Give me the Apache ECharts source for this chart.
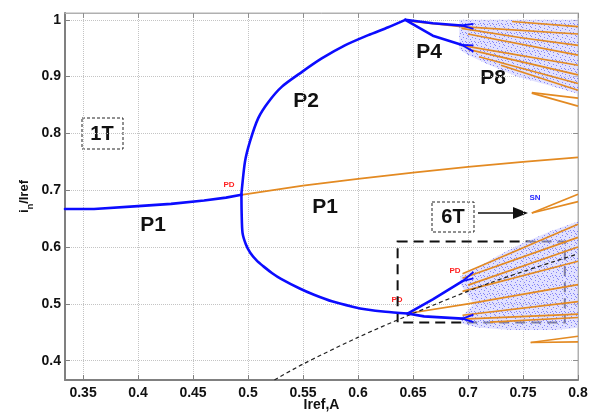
<!DOCTYPE html>
<html>
<head>
<meta charset="utf-8">
<script src="https://cdn.jsdelivr.net/npm/echarts@6/dist/echarts.min.js"></script>
<style>
html,body{margin:0;padding:0;background:#fff}
#chart{width:589px;height:412px}
</style>
</head>
<body>
<div id="chart"></div>
<script>
// tick labels
var xTicks = [0.35, 0.4, 0.45, 0.5, 0.55, 0.6, 0.65, 0.7, 0.75, 0.8];
var yTicks = [0.4, 0.5, 0.6, 0.7, 0.8, 0.9, 1];

// stable branches (blue)
var p1Stable = [[0.3336,0.667],[0.36,0.667],[0.40,0.672],[0.43,0.676],[0.46,0.682],[0.48,0.687],[0.494,0.692]];
var p2Upper = [[0.494,0.692],[0.4942,0.698],[0.4972,0.750],[0.5018,0.786],[0.5093,0.827],[0.5184,0.855],[0.5306,0.882],
  [0.5488,0.908],[0.5670,0.932],[0.5881,0.955],[0.6093,0.973],[0.6275,0.987],[0.643,1.0]];
var p2Lower = [[0.494,0.692],[0.4942,0.660],[0.495,0.625],[0.498,0.605],[0.502,0.590],[0.508,0.576],[0.514,0.566],[0.522,0.554],
  [0.530,0.544],[0.547,0.527],[0.560,0.516],[0.577,0.504],[0.595,0.495],[0.608,0.490],[0.625,0.486],[0.645,0.483]];
var p4TopA = [[0.643,1.0],[0.668,0.994],[0.694,0.990]];
var p4TopB = [[0.643,1.0],[0.668,0.972],[0.694,0.956]];
var p4LowA = [[0.645,0.483],[0.668,0.508],[0.695,0.540]];
var p4LowB = [[0.645,0.483],[0.66,0.478],[0.695,0.474]];
var p8Stubs = [
  [[0.694,0.990],[0.705,0.993]], [[0.694,0.990],[0.705,0.984]],
  [[0.694,0.956],[0.705,0.955]], [[0.694,0.956],[0.705,0.944]],
  [[0.695,0.540],[0.705,0.556]], [[0.695,0.540],[0.705,0.545]],
  [[0.695,0.474],[0.705,0.481]], [[0.695,0.474],[0.705,0.468]]
];

// unstable branches (orange)
var p1Unstable = [[0.494,0.692],[0.55,0.708],[0.60,0.720],[0.65,0.731],[0.70,0.741],[0.75,0.750],[0.80,0.758]];
var upperOrange = [
  [[0.645,0.998],[0.694,0.988],[0.80,0.975]],
  [[0.74,0.997],[0.80,0.988]],
  [[0.694,0.985],[0.75,0.968],[0.80,0.955]],
  [[0.70,0.975],[0.80,0.938]],
  [[0.694,0.955],[0.80,0.920]],
  [[0.70,0.948],[0.80,0.903]],
  [[0.71,0.935],[0.80,0.888]],
  [[0.73,0.920],[0.80,0.876]],
  [[0.758,0.872],[0.80,0.862]],
  [[0.758,0.871],[0.80,0.848]]
];
var lowerOrange = [
  [[0.695,0.553],[0.80,0.640]],
  [[0.695,0.545],[0.80,0.617]],
  [[0.70,0.533],[0.80,0.600]],
  [[0.695,0.522],[0.80,0.575]],
  [[0.645,0.483],[0.70,0.500],[0.80,0.534]],
  [[0.695,0.480],[0.80,0.504]],
  [[0.695,0.473],[0.80,0.482]],
  [[0.72,0.468],[0.80,0.476]],
  [[0.757,0.432],[0.80,0.443]],
  [[0.757,0.432],[0.80,0.433]],
  [[0.758,0.660],[0.80,0.693]],
  [[0.758,0.660],[0.80,0.680]]
];

// chaotic regions (envelopes)
var chaosUpper = [[0.692,1.0],[0.80,1.0],[0.80,0.870],[0.775,0.884],[0.745,0.900],[0.72,0.920],[0.70,0.938],[0.692,0.948],[0.692,0.975]];
var chaosLower = [[0.693,0.548],[0.71,0.566],[0.73,0.588],[0.75,0.607],[0.775,0.628],[0.80,0.645],[0.80,0.458],[0.78,0.454],
  [0.74,0.454],[0.71,0.458],[0.695,0.465],[0.693,0.474],[0.705,0.50],[0.693,0.535]];

// grazing line (black dashed)
var grazing = [[0.524,0.366],[0.55,0.394],[0.60,0.441],[0.645,0.479],[0.72,0.537],[0.80,0.588]];
var zoomBox = [[0.636,0.610],[0.788,0.467]];

var myChart = echarts.init(document.getElementById('chart'));

// speckle pattern for the chaos clouds
var pat = document.createElement('canvas');
pat.width = 9; pat.height = 9;
var pc = pat.getContext('2d');
pc.fillStyle = 'rgba(205,205,255,0.6)';
pc.fillRect(0,0,9,9);
pc.fillStyle = 'rgba(70,70,240,0.6)';
[[0,0],[4,1],[7,2],[2,3],[6,5],[1,6],[4,7],[8,8],[3,5],[7,6]].forEach(function(p){ pc.fillRect(p[0],p[1],1,1); });
var clouds = [chaosUpper, chaosLower];

var blue = '#0c0cff', orange = '#e38a22';
function blueLine(d, sm){
  return {type:'line', data:d, smooth:sm || false, showSymbol:false, symbol:'none', z:5,
    lineStyle:{color:blue, width:2.6, join:'round', cap:'round'}};
}
var axisLbl = {color:'#111', fontSize:14, fontWeight:'bold', fontFamily:'Liberation Sans'};

var option = {
  animation:false,
  grid:{left:65, right:11, top:13, bottom:32, outerBoundsMode:'none', containLabel:false,
    show:true, borderColor:'#b0b0b0', borderWidth:1},
  xAxis:[{
    type:'value', min:0.3336, max:0.8,
    name:'Iref,A', nameLocation:'middle', nameGap:18, nameMoveOverlap:false,
    nameTextStyle:{color:'#111', fontSize:14, fontWeight:'bold', fontFamily:'Liberation Sans', verticalAlign:'top', lineHeight:14},
    axisLine:{onZero:false, lineStyle:{color:'#808080', width:2}},
    axisTick:{inside:true, length:5, customValues:xTicks, lineStyle:{color:'#808080'}},
    axisLabel:Object.assign({customValues:xTicks, margin:6}, axisLbl),
    splitLine:{show:true, lineStyle:{color:'#c4c4c4', type:'dotted', width:1}}
  },{
    type:'value', position:'top', min:0.3336, max:0.8,
    axisLine:{onZero:false, lineStyle:{color:'#b0b0b0', width:1}},
    axisTick:{inside:true, length:5, customValues:xTicks, lineStyle:{color:'#909090'}},
    axisLabel:{show:false}, splitLine:{show:false}
  }],
  yAxis:[{
    type:'value', min:0.366, max:1.012,
    name:'{a|i}{s|n}{a|/Iref}', nameLocation:'middle', nameGap:30, nameMoveOverlap:false,
    nameTextStyle:{color:'#111', fontFamily:'Liberation Sans',
      rich:{a:{fontSize:13, fontWeight:'bold', color:'#111', lineHeight:14, verticalAlign:'top'},
            s:{fontSize:9, fontWeight:'bold', color:'#111', lineHeight:17, verticalAlign:'bottom'}}},
    axisLine:{onZero:false, lineStyle:{color:'#808080', width:2}},
    axisTick:{inside:true, length:5, customValues:yTicks, lineStyle:{color:'#808080'}},
    axisLabel:Object.assign({customValues:yTicks, margin:4}, axisLbl),
    splitLine:{show:true, lineStyle:{color:'#c4c4c4', type:'dotted', width:1}}
  },{
    type:'value', position:'right', min:0.366, max:1.012,
    axisLine:{onZero:false, lineStyle:{color:'#b0b0b0', width:1}},
    axisTick:{inside:true, length:5, customValues:yTicks, lineStyle:{color:'#909090'}},
    axisLabel:{show:false}, splitLine:{show:false}
  }],
  series:[
    {
      type:'custom', clip:true, z:1,
      data:[[0.75,0.95],[0.75,0.55]],
      renderItem:function(params, api){
        var pts = clouds[params.dataIndex].map(function(p){ return api.coord(p); });
        return {type:'polygon', shape:{points:pts}, style:{fill:{image:pat, repeat:'repeat'}}};
      }
    },
    {
      type:'lines', coordinateSystem:'cartesian2d', polyline:true, z:3,
      data:[p1Unstable].concat(upperOrange, lowerOrange).map(function(s){ return {coords:s}; }),
      lineStyle:{color:orange, width:1.7, opacity:1}
    },
    {
      type:'line', data:grazing, smooth:0.3, showSymbol:false, symbol:'none', z:4,
      lineStyle:{color:'#222', width:1.2, type:[4,3]},
      markArea:{silent:true,
        itemStyle:{color:'rgba(0,0,0,0)', borderColor:'#111', borderWidth:2, borderType:[10,6]},
        data:[[{coord:zoomBox[0]},{coord:zoomBox[1]}]]}
    },
    blueLine(p1Stable), blueLine(p2Upper, 0.25), blueLine(p2Lower, 0.25),
    blueLine(p4TopA), blueLine(p4TopB), blueLine(p4LowA), blueLine(p4LowB),
    {
      type:'lines', coordinateSystem:'cartesian2d', polyline:true, z:5,
      data:p8Stubs.map(function(s){ return {coords:s}; }),
      lineStyle:{color:blue, width:1.8, opacity:1}
    }
  ],
  graphic:[
    {type:'rect', shape:{x:82, y:118, width:41, height:31}, style:{fill:'#fff', stroke:'#222', lineWidth:1, lineDash:[3,2]}},
    {type:'text', x:102, y:134, style:{text:'1T', fontSize:20, fontWeight:'bold', fontFamily:'Liberation Sans', fill:'#111', align:'center', verticalAlign:'middle'}},
    {type:'rect', shape:{x:432, y:202, width:42, height:30}, style:{fill:'#fff', stroke:'#222', lineWidth:1, lineDash:[3,2]}},
    {type:'text', x:453, y:217, style:{text:'6T', fontSize:20, fontWeight:'bold', fontFamily:'Liberation Sans', fill:'#111', align:'center', verticalAlign:'middle'}},
    {type:'line', shape:{x1:478, y1:213, x2:515, y2:213}, style:{stroke:'#111', lineWidth:1.5}},
    {type:'polygon', shape:{points:[[513,207],[528,213],[513,219]]}, style:{fill:'#111'}},
    {type:'text', x:535, y:198, style:{text:'SN', fontSize:8, fontWeight:'bold', fontFamily:'Liberation Sans', fill:'#2a2aff', align:'center', verticalAlign:'middle'}},
    {type:'text', x:229, y:185, style:{text:'PD', fontSize:8, fontWeight:'bold', fontFamily:'Liberation Sans', fill:'#ff2020', align:'center', verticalAlign:'middle'}},
    {type:'text', x:455, y:271, style:{text:'PD', fontSize:8, fontWeight:'bold', fontFamily:'Liberation Sans', fill:'#ff2020', align:'center', verticalAlign:'middle'}},
    {type:'text', x:397, y:300, style:{text:'PD', fontSize:8, fontWeight:'bold', fontFamily:'Liberation Sans', fill:'#ff2020', align:'center', verticalAlign:'middle'}},
    {type:'text', x:153, y:225, style:{text:'P1', fontSize:21, fontWeight:'bold', fontFamily:'Liberation Sans', fill:'#111', align:'center', verticalAlign:'middle'}},
    {type:'text', x:325, y:207, style:{text:'P1', fontSize:21, fontWeight:'bold', fontFamily:'Liberation Sans', fill:'#111', align:'center', verticalAlign:'middle'}},
    {type:'text', x:306, y:101, style:{text:'P2', fontSize:21, fontWeight:'bold', fontFamily:'Liberation Sans', fill:'#111', align:'center', verticalAlign:'middle'}},
    {type:'text', x:429, y:52, style:{text:'P4', fontSize:21, fontWeight:'bold', fontFamily:'Liberation Sans', fill:'#111', align:'center', verticalAlign:'middle'}},
    {type:'text', x:493, y:78, style:{text:'P8', fontSize:21, fontWeight:'bold', fontFamily:'Liberation Sans', fill:'#111', align:'center', verticalAlign:'middle'}}
  ]
};

myChart.setOption(option);
</script>
</body>
</html>
